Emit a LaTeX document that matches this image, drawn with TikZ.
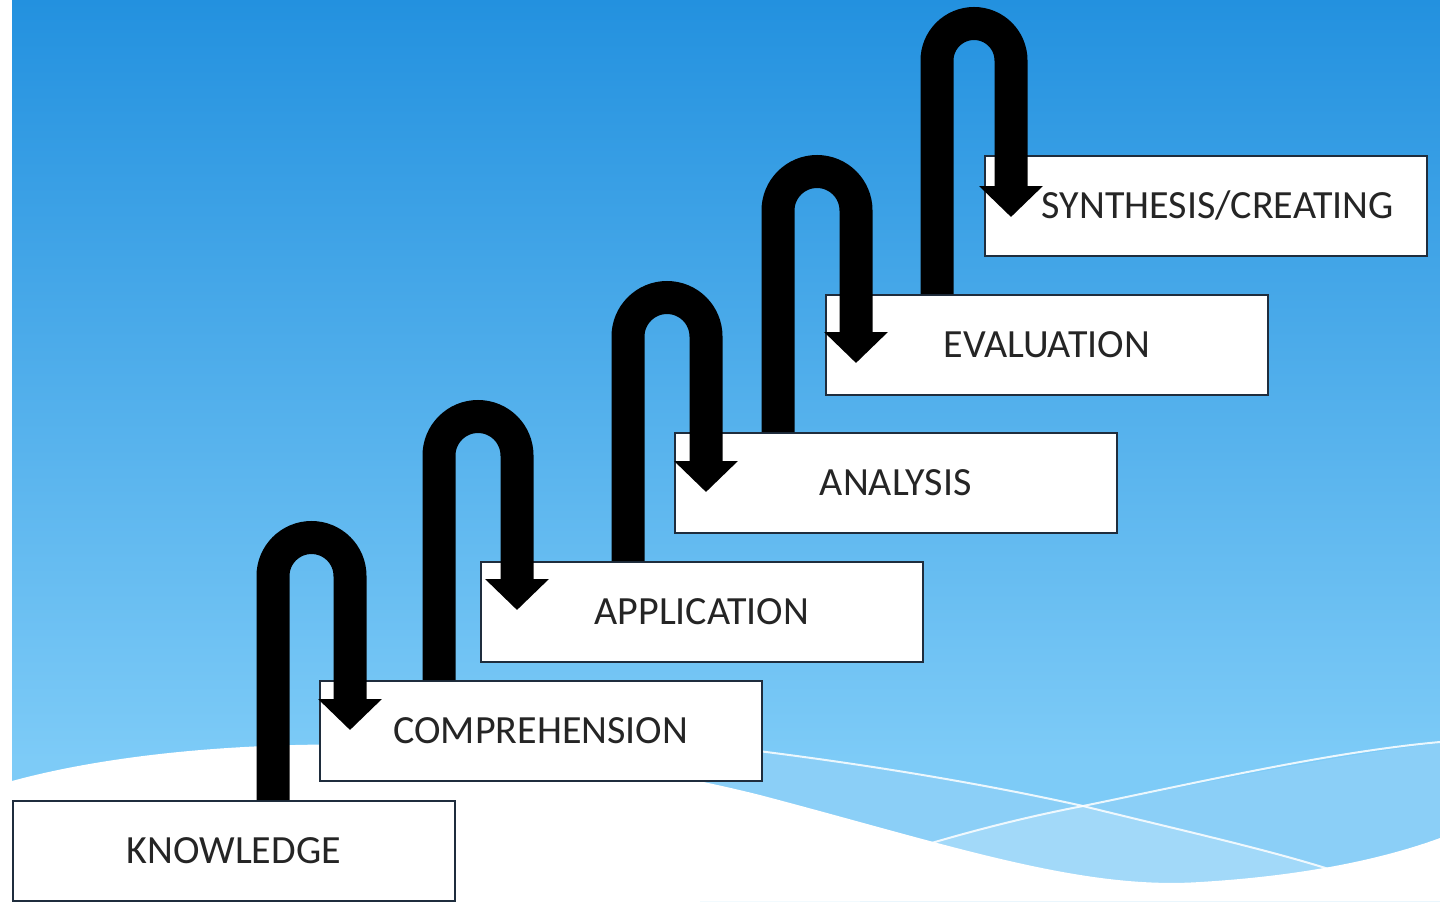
\documentclass[tikz,border=0pt]{standalone}
\usepackage{fontspec}
\setmainfont{Carlito}
\usetikzlibrary{arrows.meta,calc}
\definecolor{bgtop}{HTML}{2391DF}
\definecolor{bgmid}{HTML}{4AA8EA}
\definecolor{bgbot}{HTML}{7DCBF7}
\definecolor{bandA}{HTML}{8BCFF7}
\definecolor{bandB}{HTML}{A2D9F9}
\definecolor{boxline}{HTML}{1F2D3D}
\definecolor{txt}{HTML}{252525}
\begin{document}
\begin{tikzpicture}[x=0.5pt,y=-0.5pt,
  stepbox/.style={draw=boxline,line width=0.8pt,fill=white,minimum width=221pt,
    minimum height=50pt,inner sep=0pt,text=txt,anchor=north west,
    font=\fontsize{20pt}{24pt}\selectfont},
  uarrow/.style={line width=16.5pt,draw=black,-{Triangle[width=31pt,length=15.5pt]}},
  wline/.style={draw=white,line width=1pt,opacity=0.85}]
\useasboundingbox (0,0) rectangle (1440,901);
% background
\fill[white] (0,0) rectangle (1440,901);
\shade[top color=bgtop,middle color=bgmid,bottom color=bgbot] (12,0) rectangle (1440,760);
\fill[bgbot] (12,759) rectangle (1440,901);
\fill[bandA] (700,745) .. controls (850,762) and (980,784) .. (1083,806)
  .. controls (1200,784) and (1330,756) .. (1440,743) -- (1440,901) -- (700,901) -- cycle;
\fill[bandB] (860,862) .. controls (940,840) and (1010,820) .. (1083,806)
  .. controls (1180,830) and (1270,850) .. (1335,871) -- (1440,901) -- (860,901) -- cycle;
\draw[wline] (700,744) .. controls (850,761) and (980,783) .. (1083,806)
  .. controls (1180,830) and (1270,850) .. (1335,871);
\draw[wline] (905,851) .. controls (960,834) and (1020,818) .. (1083,806)
  .. controls (1200,782) and (1330,752) .. (1440,742);
\fill[white] (12,781) .. controls (180,735) and (480,725) .. (760,795)
  .. controls (950,845) and (1080,890) .. (1200,882)
  .. controls (1300,876) and (1380,860) .. (1440,838) -- (1440,901) -- (12,901) -- cycle;
% boxes
\node[stepbox] (k) at (12,800) {KNOWLEDGE};
\node[stepbox] (c) at (319,680) {COMPREHENSION};
\node[stepbox] (a) at (480,561) {APPLICATION};
\node[stepbox] (an) at (674,432) {ANALYSIS};
\node[stepbox] (e) at (825,294) {EVALUATION};
\node[stepbox] (s) at (984,155) {\hspace*{12pt}SYNTHESIS/CREATING};
% arrows
\draw[uarrow] ($(k.north west)+(261,0)$) -- ++(0,-224)
  arc[start angle=180,end angle=0,radius=19.25pt] -- ($(c.north west)+(31,50)$);
\draw[uarrow] ($(c.north west)+(120,0)$) -- ++(0,-224.5)
  arc[start angle=180,end angle=0,radius=19.5pt] -- ($(a.north west)+(37,49)$);
\draw[uarrow] ($(a.north west)+(148,0)$) -- ++(0,-224.5)
  arc[start angle=180,end angle=0,radius=19.5pt] -- ($(an.north west)+(32,60)$);
\draw[uarrow] ($(an.north west)+(104,0)$) -- ++(0,-221.5)
  arc[start angle=180,end angle=0,radius=19.5pt] -- ($(e.north west)+(31,69)$);
\draw[uarrow] ($(e.north west)+(112,0)$) -- ++(0,-233.5)
  arc[start angle=180,end angle=0,radius=18.5pt] -- ($(s.north west)+(27,62)$);
\end{tikzpicture}
\end{document}
